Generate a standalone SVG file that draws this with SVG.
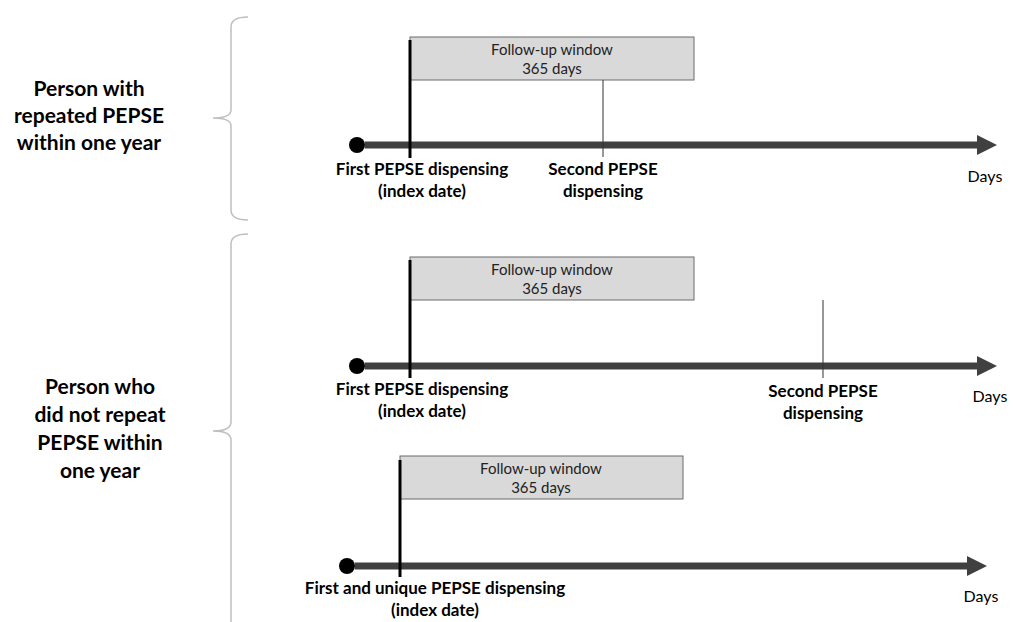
<svg xmlns="http://www.w3.org/2000/svg" width="1013" height="622" viewBox="0 0 1013 622">
<defs>
<style>
.lbl{font-family:Lato,"Open Sans","Liberation Sans",sans-serif;font-weight:bold;font-size:17px;fill:#000;text-anchor:middle}
.big{font-family:Lato,"Open Sans","Liberation Sans",sans-serif;font-weight:bold;font-size:21px;fill:#000;text-anchor:middle}
.win{font-family:Lato,"Open Sans","Liberation Sans",sans-serif;font-size:15px;fill:#222;text-anchor:middle}
.days{font-family:Lato,"Open Sans","Liberation Sans",sans-serif;font-size:16px;fill:#000;text-anchor:middle}
.box{fill:#d9d9d9;stroke:#6b6b6b;stroke-width:1}
.axis{stroke:#404040;stroke-width:7;fill:none}
.head{fill:#404040}
.idx{stroke:#000;stroke-width:3}
.sec{stroke:#333;stroke-width:1}
.brace{fill:none;stroke:#bfbfbf;stroke-width:1.5}
</style>
</defs>
<rect width="1013" height="622" fill="#fff"/>
<g id="braces">
<path class="brace" d="M248,17 Q231,17 231,27 L231,110 Q231,118 213,118 Q231,118 231,126 L231,210 Q231,220 248,220"/>
<path class="brace" d="M248,234 Q231,234 231,244 L231,422 Q231,431 213,431 Q231,431 231,440 L231,622"/>
</g>
<g id="group-labels">
<text class="big" x="89" y="96">Person with</text>
<text class="big" x="89" y="123">repeated PEPSE</text>
<text class="big" x="89" y="150">within one year</text>
<text class="big" x="100" y="394">Person who</text>
<text class="big" x="100" y="422">did not repeat</text>
<text class="big" x="100" y="450">PEPSE within</text>
<text class="big" x="100" y="478">one year</text>
</g>
<g id="connectors">
<line class="axis" x1="365" y1="145" x2="979" y2="145"/>
<polygon class="head" points="977,135 997,145 977,155"/>
<line class="axis" x1="365" y1="366" x2="979" y2="366"/>
<polygon class="head" points="977,356 997,366 977,376"/>
<line class="axis" x1="355" y1="566" x2="969" y2="566"/>
<polygon class="head" points="967,556 987,566 967,576"/>
</g>
<g id="panel1">
<rect class="box" x="410" y="37" width="284" height="43"/>
<text class="win" x="552" y="55">Follow-up window</text>
<text class="win" x="552" y="74">365 days</text>
<line class="idx" x1="410" y1="40" x2="410" y2="158"/>
<line class="sec" x1="603" y1="80" x2="603" y2="157"/>
<circle cx="357" cy="145" r="8" fill="#000"/>
<text class="lbl" x="422" y="175">First PEPSE dispensing</text>
<text class="lbl" x="422" y="197">(index date)</text>
<text class="lbl" x="603" y="175">Second PEPSE</text>
<text class="lbl" x="603" y="197">dispensing</text>
<text class="days" x="985" y="182">Days</text>
</g>
<g id="panel2">
<rect class="box" x="410" y="257" width="284" height="43"/>
<text class="win" x="552" y="275">Follow-up window</text>
<text class="win" x="552" y="294">365 days</text>
<line class="idx" x1="410" y1="260" x2="410" y2="378"/>
<line class="sec" x1="823" y1="300" x2="823" y2="378"/>
<circle cx="357" cy="366" r="8" fill="#000"/>
<text class="lbl" x="422" y="395">First PEPSE dispensing</text>
<text class="lbl" x="422" y="417">(index date)</text>
<text class="lbl" x="823" y="397">Second PEPSE</text>
<text class="lbl" x="823" y="419">dispensing</text>
<text class="days" x="990" y="402">Days</text>
</g>
<g id="panel3">
<rect class="box" x="400" y="456" width="283" height="43"/>
<text class="win" x="541" y="474">Follow-up window</text>
<text class="win" x="541" y="493">365 days</text>
<line class="idx" x1="400" y1="460" x2="400" y2="577"/>
<circle cx="347" cy="566" r="8" fill="#000"/>
<text class="lbl" x="435" y="594">First and unique PEPSE dispensing</text>
<text class="lbl" x="435" y="616">(index date)</text>
<text class="days" x="981" y="602">Days</text>
</g>
</svg>
